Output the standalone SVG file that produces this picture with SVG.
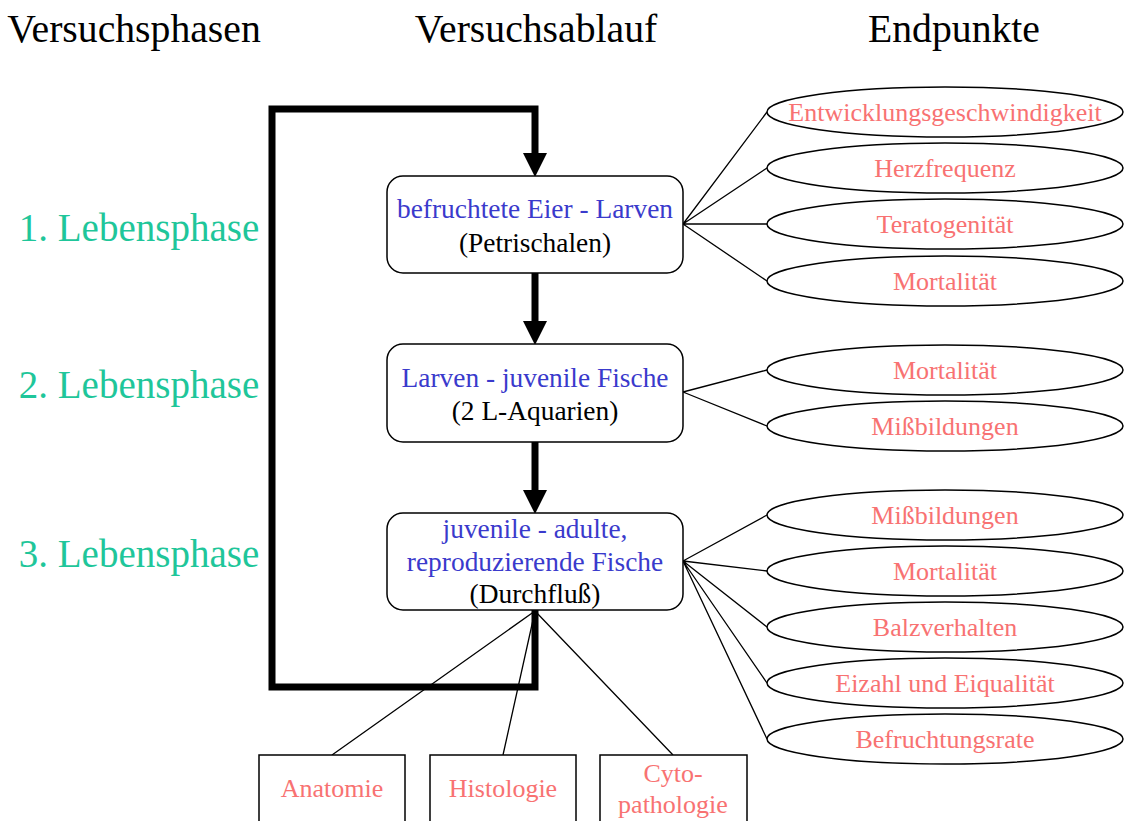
<svg xmlns="http://www.w3.org/2000/svg" width="1125" height="821" viewBox="0 0 1125 821">
<style>
text{font-family:"Liberation Serif","Times New Roman",serif;text-anchor:middle}
.hd{font-size:39.7px;fill:#000}
.ph{font-size:39px;fill:#1fc69a}
.bl{font-size:27.4px;fill:#3a3acc}
.bk{font-size:27.4px;fill:#000}
.ep{font-size:26px;fill:#f87272}
.box{fill:#fff;stroke:#000;stroke-width:1.5}
.ell{fill:#fff;stroke:#000;stroke-width:1.5}
.thin{fill:none;stroke:#000;stroke-width:1.3}
.thick{fill:none;stroke:#000;stroke-width:7;stroke-linejoin:miter}
</style>
<defs>
<marker id="ah" markerUnits="userSpaceOnUse" markerWidth="24" markerHeight="24" refX="0" refY="12" orient="auto" viewBox="0 0 24 24">
<path d="M0,0 L24,12 L0,24 z" fill="#000"/>
</marker>
</defs>
<g id="headers">
<text class="hd" x="134" y="42">Versuchsphasen</text>
<text class="hd" x="536" y="42">Versuchsablauf</text>
<text class="hd" x="954" y="42">Endpunkte</text>
</g>
<g id="phases">
<text class="ph" x="139" y="241">1. Lebensphase</text>
<text class="ph" x="139" y="398">2. Lebensphase</text>
<text class="ph" x="139" y="567">3. Lebensphase</text>
</g>
<g id="connectors">
<path class="thick" d="M535,610 L535,687 L272,687 L272,109 L535,109 L535,153" marker-end="url(#ah)"/>
<path class="thick" d="M535,273 L535,321" marker-end="url(#ah)"/>
<path class="thick" d="M535,442 L535,490" marker-end="url(#ah)"/>
<path class="thin" d="M683,224 L767,112 M683,224 L767,168 M683,224 L767,224 M683,224 L767,281"/>
<path class="thin" d="M683,392 L767,370 M683,392 L767,426"/>
<path class="thin" d="M683,561 L767,515 M683,561 L767,571 M683,561 L767,627 M683,561 L767,683 M683,561 L767,739"/>
<path class="thin" d="M535,611 L332,755 M535,611 L503,755 M535,611 L673,755"/>
</g>
<g id="box1">
<rect class="box" x="387" y="176" width="296" height="97" rx="16"/>
<text class="bl" x="535" y="218">befruchtete Eier - Larven</text>
<text class="bk" x="535" y="252">(Petrischalen)</text>
</g>
<g id="box2">
<rect class="box" x="387" y="344" width="296" height="98" rx="16"/>
<text class="bl" x="535" y="387">Larven - juvenile Fische</text>
<text class="bk" x="535" y="420">(2 L-Aquarien)</text>
</g>
<g id="box3">
<rect class="box" x="387" y="513" width="296" height="97" rx="16"/>
<text class="bl" x="535" y="538">juvenile - adulte,</text>
<text class="bl" x="535" y="571">reproduzierende Fische</text>
<text class="bk" x="535" y="603">(Durchfluß)</text>
</g>
<g id="e1"><ellipse class="ell" cx="945" cy="112" rx="178" ry="25"/><text class="ep" x="945" y="121">Entwicklungsgeschwindigkeit</text></g>
<g id="e2"><ellipse class="ell" cx="945" cy="168" rx="178" ry="25"/><text class="ep" x="945" y="177">Herzfrequenz</text></g>
<g id="e3"><ellipse class="ell" cx="945" cy="224" rx="178" ry="25"/><text class="ep" x="945" y="233">Teratogenität</text></g>
<g id="e4"><ellipse class="ell" cx="945" cy="281" rx="178" ry="25"/><text class="ep" x="945" y="290">Mortalität</text></g>
<g id="e5"><ellipse class="ell" cx="945" cy="370" rx="178" ry="25"/><text class="ep" x="945" y="379">Mortalität</text></g>
<g id="e6"><ellipse class="ell" cx="945" cy="426" rx="178" ry="25"/><text class="ep" x="945" y="435">Mißbildungen</text></g>
<g id="e7"><ellipse class="ell" cx="945" cy="515" rx="178" ry="25"/><text class="ep" x="945" y="524">Mißbildungen</text></g>
<g id="e8"><ellipse class="ell" cx="945" cy="571" rx="178" ry="25"/><text class="ep" x="945" y="580">Mortalität</text></g>
<g id="e9"><ellipse class="ell" cx="945" cy="627" rx="178" ry="25"/><text class="ep" x="945" y="636">Balzverhalten</text></g>
<g id="e10"><ellipse class="ell" cx="945" cy="683" rx="178" ry="25"/><text class="ep" x="945" y="692">Eizahl und Eiqualität</text></g>
<g id="e11"><ellipse class="ell" cx="945" cy="739" rx="178" ry="25"/><text class="ep" x="945" y="748">Befruchtungsrate</text></g>
<g id="b1"><rect class="box" x="259" y="755" width="146" height="70"/><text class="ep" x="332" y="797">Anatomie</text></g>
<g id="b2"><rect class="box" x="430" y="755" width="146" height="70"/><text class="ep" x="503" y="797">Histologie</text></g>
<g id="b3"><rect class="box" x="600" y="755" width="147" height="70"/><text class="ep" x="673" y="782">Cyto-</text><text class="ep" x="673" y="813">pathologie</text></g>
</svg>
